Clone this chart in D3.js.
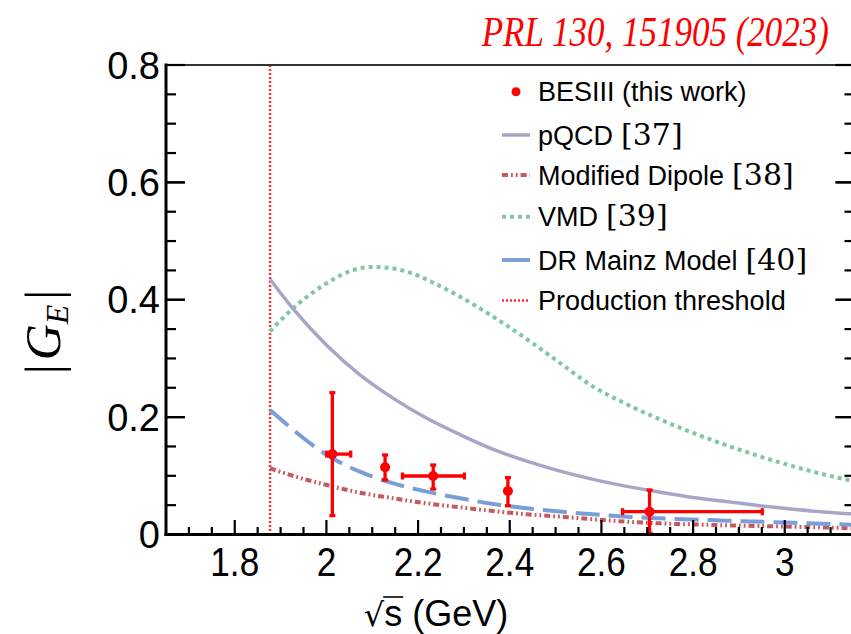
<!DOCTYPE html>
<html><head><meta charset="utf-8">
<script src="https://cdn.jsdelivr.net/npm/d3@7"></script>
<style>body{margin:0;background:#fff}svg{display:block}</style>
</head><body><svg id="chart" width="851" height="634"></svg>
<script>
// ---------- data ----------
const xTickValues = [1.8, 2.0, 2.2, 2.4, 2.6, 2.8, 3.0];
const xTickLabels = ["1.8", "2", "2.2", "2.4", "2.6", "2.8", "3"];
const yTickValues = [0, 0.2, 0.4, 0.6, 0.8];
const yTickLabels = ["0", "0.2", "0.4", "0.6", "0.8"];
const threshold = 1.877;

const besX   = [2.013, 2.128, 2.233, 2.396, 2.705];
const besY   = [0.137, 0.1145, 0.0997, 0.0741, 0.0389];
const besYlo = [0.032, 0.093, 0.0775, 0.049, 0.002];
const besYhi = [0.2416, 0.1355, 0.1184, 0.0968, 0.0758];
const besXlo = [2.0006, 2.128, 2.166, 2.396, 2.646];
const besXhi = [2.053, 2.128, 2.301, 2.396, 2.951];

const pqcdX = [1.877, 1.928, 2.001, 2.073, 2.146, 2.219, 2.292, 2.364, 2.437, 2.510, 2.582, 2.655, 2.728, 2.800, 2.873, 2.946, 3.019, 3.092, 3.15];
const pqcdY = [0.435, 0.384, 0.322, 0.272, 0.232, 0.198, 0.170, 0.145, 0.125, 0.108, 0.094, 0.082, 0.072, 0.063, 0.056, 0.049, 0.043, 0.038, 0.035];

const vmdX = [1.877, 1.928, 1.975, 2.02, 2.06, 2.10, 2.14, 2.19, 2.233, 2.292, 2.364, 2.437, 2.510, 2.582, 2.655, 2.728, 2.800, 2.873, 2.946, 3.019, 3.092, 3.15];
const vmdY = [0.346, 0.386, 0.415, 0.437, 0.451, 0.456, 0.454, 0.444, 0.429, 0.405, 0.371, 0.333, 0.292, 0.252, 0.222, 0.196, 0.173, 0.152, 0.133, 0.116, 0.101, 0.091];

const drX = [1.877, 1.928, 2.001, 2.073, 2.146, 2.219, 2.292, 2.364, 2.437, 2.510, 2.582, 2.655, 2.728, 2.873, 3.019, 3.15];
const drY = [0.212, 0.178, 0.1355, 0.107, 0.0872, 0.073, 0.0617, 0.052, 0.0446, 0.039, 0.0344, 0.0303, 0.0276, 0.0235, 0.020, 0.0165];

const mdX = [1.877, 1.928, 2.001, 2.073, 2.146, 2.219, 2.292, 2.364, 2.437, 2.510, 2.582, 2.655, 2.728, 2.873, 3.019, 3.15];
const mdY = [0.1128, 0.0997, 0.0843, 0.0712, 0.0617, 0.053, 0.0463, 0.040, 0.0344, 0.0303, 0.026, 0.0218, 0.019, 0.0157, 0.0133, 0.0106];

const legendLabels = ["BESIII (this work)", "pQCD", "Modified Dipole", "VMD", "DR Mainz Model", "Production threshold"];
const legendRefs   = ["", "[37]", "[38]", "[39]", "[40]", ""];

// ---------- styles ----------
const styles = {
  pqcd: {stroke: "#a9a5c5", width: 3.5, dash: null},
  md:   {stroke: "#c6585e", width: 4, dash: "6,3,1.8,3,1.8,3"},
  vmd:  {stroke: "#82c7a3", width: 4, dash: "4,4"},
  dr:   {stroke: "#7a9ed8", width: 4, dash: "24,9"},
  thr:  {stroke: "#ff3030", width: 2.5, dash: "2,2"}
};

const svg = d3.select("#chart");
const x = d3.scaleLinear().domain([1.65, 3.15]).range([166, 853.5]);
const y = d3.scaleLinear().domain([0, 0.8]).range([534.5, 65]);

svg.append("clipPath").attr("id", "clip").append("rect")
  .attr("x", 166).attr("y", 65).attr("width", 687.5).attr("height", 469.5);
const plot = svg.append("g").attr("clip-path", "url(#clip)");

// threshold
plot.append("line").attr("x1", x(threshold)).attr("x2", x(threshold))
  .attr("y1", y(0.8)).attr("y2", y(0))
  .attr("stroke", styles.thr.stroke).attr("stroke-width", styles.thr.width)
  .attr("stroke-dasharray", styles.thr.dash);

function curve(xs, ys, st) {
  const pts = xs.map((v, i) => [v, ys[i]]);
  const line = d3.line().x(d => x(d[0])).y(d => y(d[1])).curve(d3.curveMonotoneX);
  const p = plot.append("path").datum(pts).attr("d", line)
    .attr("fill", "none").attr("stroke", st.stroke).attr("stroke-width", st.width);
  if (st.dash) p.attr("stroke-dasharray", st.dash);
}
curve(vmdX, vmdY, styles.vmd);
curve(pqcdX, pqcdY, styles.pqcd);
curve(mdX, mdY, styles.md);
curve(drX, drY, styles.dr);

// data points with error bars
const red = "#ff0000";
const eb = plot.append("g").attr("stroke", red).attr("stroke-width", 3.3);
besX.forEach((v, i) => {
  eb.append("line").attr("x1", x(v)).attr("x2", x(v)).attr("y1", y(besYlo[i])).attr("y2", y(besYhi[i]));
  [besYlo[i], besYhi[i]].forEach(e => {
    eb.append("line").attr("x1", x(v) - 3).attr("x2", x(v) + 3).attr("y1", y(e)).attr("y2", y(e));
  });
  if (besXhi[i] > besXlo[i]) {
    eb.append("line").attr("x1", x(besXlo[i])).attr("x2", x(besXhi[i])).attr("y1", y(besY[i])).attr("y2", y(besY[i]));
    [besXlo[i], besXhi[i]].forEach(e => {
      eb.append("line").attr("x1", x(e)).attr("x2", x(e)).attr("y1", y(besY[i]) - 3.5).attr("y2", y(besY[i]) + 3.5);
    });
  }
});
plot.append("g").selectAll("circle").data(besX).join("circle")
  .attr("cx", d => x(d)).attr("cy", (d, i) => y(besY[i])).attr("r", 5).attr("fill", red);

// ---------- frame & axes ----------
const ax = svg.append("g").attr("stroke", "#000");
ax.append("line").attr("x1", 166).attr("x2", 853.5).attr("y1", 65).attr("y2", 65).attr("stroke", "#333").attr("stroke-width", 2);
ax.append("line").attr("x1", 166).attr("x2", 166).attr("y1", 63.5).attr("y2", 536).attr("stroke-width", 3);
ax.append("line").attr("x1", 164.5).attr("x2", 853.5).attr("y1", 534.5).attr("y2", 534.5).attr("stroke-width", 3);
ax.append("line").attr("x1", 853.5).attr("x2", 853.5).attr("y1", 65).attr("y2", 534.5).attr("stroke-width", 3);

const xMinor = d3.range(1.70, 3.151, 0.05);
xMinor.forEach(v => {
  const major = xTickValues.some(t => Math.abs(t - v) < 1e-6);
  ax.append("line").attr("x1", x(v)).attr("x2", x(v))
    .attr("y1", 534.5).attr("y2", 534.5 - (major ? 14.5 : 7.5)).attr("stroke-width", 2.2);
});
const yMinor = d3.range(0.05, 0.80, 0.05);
yMinor.concat(yTickValues).forEach(v => {
  const major = yTickValues.some(t => Math.abs(t - v) < 1e-6);
  const len = major ? 19 : 10;
  ax.append("line").attr("x1", 166).attr("x2", 166 + len).attr("y1", y(v)).attr("y2", y(v)).attr("stroke-width", 2.2);
  ax.append("line").attr("x1", 853.5).attr("x2", 853.5 - len + 1).attr("y1", y(v)).attr("y2", y(v)).attr("stroke-width", 2.2);
});

// tick labels
const lab = svg.append("g").attr("font-family", "'Liberation Sans', Arial, sans-serif").attr("fill", "#000");
xTickValues.forEach((v, i) => {
  lab.append("text").attr("transform", `translate(${x(v)},576) scale(0.95,1.08)`).attr("text-anchor", "middle")
    .attr("font-size", 37).text(xTickLabels[i]);
});
yTickValues.forEach((v, i) => {
  lab.append("text").attr("x", 160).attr("y", y(v) + 13.5).attr("text-anchor", "end")
    .attr("font-size", 38).text(yTickLabels[i]);
});

// x axis title  √s (GeV)
const xt = svg.append("text").attr("x", 436).attr("y", 626).attr("text-anchor", "middle")
  .attr("font-family", "'Liberation Sans', Arial, sans-serif").attr("font-size", 36);
xt.append("tspan").attr("font-family", "'DejaVu Sans', sans-serif").attr("font-size", 32).text("√");
xt.append("tspan").text("s");
xt.append("tspan").text(" (GeV)");
(function(){
  const n = xt.node();
  const start = n.getStartPositionOfChar(1).x;
  const end = n.getEndPositionOfChar(1).x;
  svg.append("line").attr("x1", start - 1).attr("x2", end + 1).attr("y1", 597).attr("y2", 597)
    .attr("stroke", "#000").attr("stroke-width", 1.6);
})();

// y axis title |G_E|
const yt = svg.append("text").attr("transform", "translate(60,332) rotate(-90)")
  .attr("text-anchor", "middle").attr("font-family", "'Liberation Serif', 'Times New Roman', serif")
  .attr("font-size", 50);
yt.append("tspan").text("|");
yt.append("tspan").attr("font-style", "italic").attr("dx", 4).text("G");
yt.append("tspan").attr("font-style", "italic").attr("font-size", 32).attr("dy", 8).text("E");
yt.append("tspan").attr("dy", -8).attr("dx", 5).text("|");

// top-right title (slightly tall glyphs as in the reference)
svg.append("text").attr("transform", "translate(829,46) scale(1,1.22)").attr("text-anchor", "end")
  .attr("font-family", "'Liberation Serif', 'Times New Roman', serif").attr("font-style", "italic")
  .attr("font-size", 35).attr("fill", "#ff0000").text("PRL 130, 151905 (2023)");

// ---------- legend ----------
const legY = [91.7, 135, 175, 216.7, 260, 300.5];
const legStyles = [null, styles.pqcd, styles.md, styles.vmd, styles.dr, styles.thr];
const lg = svg.append("g");
legendLabels.forEach((txt, i) => {
  const yy = legY[i];
  if (i === 0) {
    lg.append("circle").attr("cx", 516).attr("cy", yy).attr("r", 4.5).attr("fill", red);
  } else {
    const st = legStyles[i];
    const l = lg.append("line").attr("x1", 502).attr("x2", 530).attr("y1", yy).attr("y2", yy)
      .attr("stroke", st.stroke).attr("stroke-width", st.width);
    if (st.dash && i !== 4) l.attr("stroke-dasharray", st.dash);
  }
  const t = lg.append("text").attr("x", 538).attr("y", yy + 9.5)
    .attr("font-family", "'Liberation Sans', Arial, sans-serif").attr("font-size", 27).text(txt);
  if (legendRefs[i]) {
    t.append("tspan").attr("dx", 8).attr("font-family", "'DejaVu Serif', serif").attr("font-size", 30)
      .attr("font-weight", 300).text(legendRefs[i]);
  }
});
</script>
</body></html>
